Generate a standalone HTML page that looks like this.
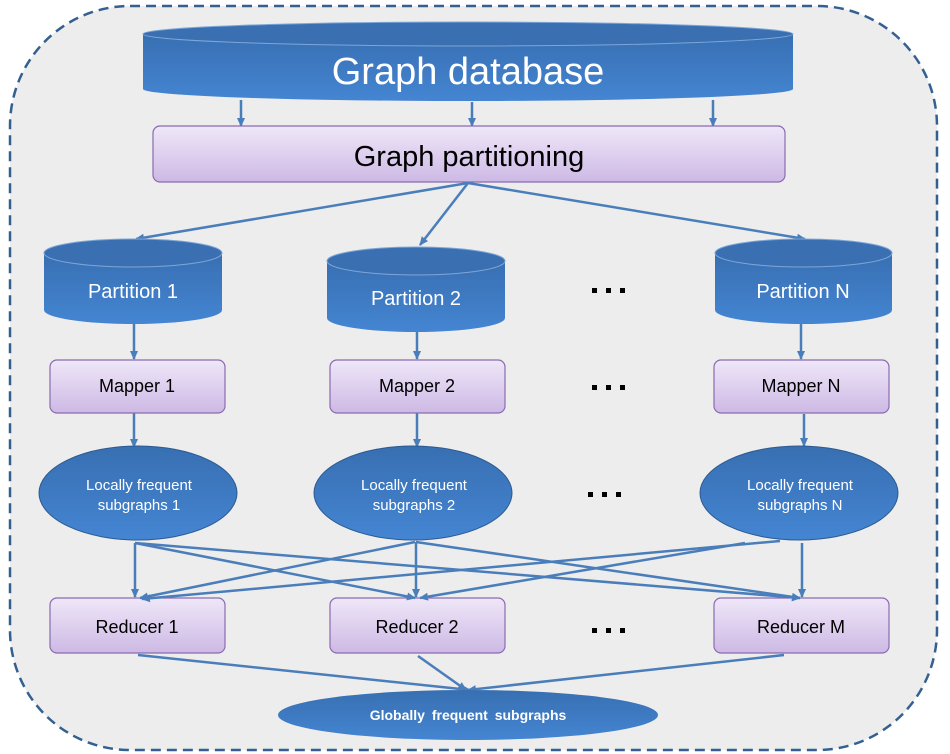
<!DOCTYPE html>
<html><head><meta charset="utf-8"><style>
html,body{margin:0;padding:0;background:#fff;}
svg{display:block;font-family:"Liberation Sans",sans-serif;}
</style></head><body>
<svg width="950" height="754" viewBox="0 0 950 754" xmlns="http://www.w3.org/2000/svg">
<defs>
<linearGradient id="blue" x1="0" y1="0" x2="0" y2="1">
<stop offset="0" stop-color="#386fb2"/><stop offset="1" stop-color="#4485d2"/></linearGradient>
<linearGradient id="lav" x1="0" y1="0" x2="0" y2="1">
<stop offset="0" stop-color="#efe7f8"/><stop offset="1" stop-color="#cdb9e5"/></linearGradient>
<marker id="ar" markerWidth="10" markerHeight="10" refX="8" refY="5" orient="auto" markerUnits="userSpaceOnUse">
<path d="M0,1 L9,5 L0,9 Z" fill="#4a7ebb"/></marker>
</defs>
<rect x="10" y="6" width="927" height="744" rx="120" fill="#ededed" stroke="#335f91" stroke-width="2.5" stroke-dasharray="10,6"/>

<path d="M143,34 L143,89 A325,12 0 0 0 793,89 L793,34 Z" fill="url(#blue)"/>
<ellipse cx="468" cy="34" rx="325" ry="12" fill="#3a70b2" stroke="#7da6d8" stroke-width="1"/>
<text x="468" y="84" font-size="38" fill="#fff" text-anchor="middle">Graph database</text>

<g stroke="#4a7ebb" stroke-width="2.5" fill="none" marker-end="url(#ar)">
<line x1="241" y1="100" x2="241" y2="126"/>
<line x1="472" y1="102" x2="472" y2="126"/>
<line x1="713" y1="100" x2="713" y2="126"/>
</g>

<rect x="153" y="126" width="632" height="56" rx="7" fill="url(#lav)" stroke="#8a6bb0" stroke-width="1.2"/>
<text x="469" y="166" font-size="29" fill="#000" text-anchor="middle">Graph partitioning</text>

<g stroke="#4a7ebb" stroke-width="2.5" fill="none" marker-end="url(#ar)">
<line x1="468" y1="183" x2="136" y2="239"/>
<line x1="468" y1="183" x2="420" y2="245"/>
<line x1="468" y1="183" x2="805" y2="239"/>
</g>

<g>
<path d="M44,253 L44,310 A89,14 0 0 0 222,310 L222,253 Z" fill="url(#blue)"/>
<ellipse cx="133" cy="253" rx="89" ry="14" fill="#3a70b2" stroke="#7da6d8"/>
<text x="133" y="298" font-size="20" fill="#fff" text-anchor="middle">Partition 1</text>
<path d="M327,261 L327,318 A89,14 0 0 0 505,318 L505,261 Z" fill="url(#blue)"/>
<ellipse cx="416" cy="261" rx="89" ry="14" fill="#3a70b2" stroke="#7da6d8"/>
<text x="416" y="305" font-size="20" fill="#fff" text-anchor="middle">Partition 2</text>
<path d="M715,253 L715,310 A88.5,14 0 0 0 892,310 L892,253 Z" fill="url(#blue)"/>
<ellipse cx="803.5" cy="253" rx="88.5" ry="14" fill="#3a70b2" stroke="#7da6d8"/>
<text x="803" y="298" font-size="20" fill="#fff" text-anchor="middle">Partition N</text>
</g>

<g fill="#000">
<rect x="592" y="288" width="5" height="5"/><rect x="606" y="288" width="5" height="5"/><rect x="620" y="288" width="5" height="5"/>
<rect x="592" y="385" width="5" height="5"/><rect x="606" y="385" width="5" height="5"/><rect x="620" y="385" width="5" height="5"/>
<rect x="588" y="492" width="5" height="5"/><rect x="602" y="492" width="5" height="5"/><rect x="616" y="492" width="5" height="5"/>
<rect x="592" y="628" width="5" height="5"/><rect x="606" y="628" width="5" height="5"/><rect x="620" y="628" width="5" height="5"/>
</g>

<g stroke="#4a7ebb" stroke-width="2.5" fill="none" marker-end="url(#ar)">
<line x1="134" y1="324" x2="134" y2="359"/>
<line x1="417" y1="332" x2="417" y2="359"/>
<line x1="801" y1="324" x2="801" y2="359"/>
<line x1="134" y1="413" x2="134" y2="447"/>
<line x1="417" y1="413" x2="417" y2="447"/>
<line x1="804" y1="414" x2="804" y2="446"/>
</g>

<g fill="url(#lav)" stroke="#8a6bb0" stroke-width="1.2">
<rect x="50" y="360" width="175" height="53" rx="7"/>
<rect x="330" y="360" width="175" height="53" rx="7"/>
<rect x="714" y="360" width="175" height="53" rx="7"/>
<rect x="50" y="598" width="175" height="55" rx="7"/>
<rect x="330" y="598" width="175" height="55" rx="7"/>
<rect x="714" y="598" width="175" height="55" rx="7"/>
</g>
<g font-size="18" fill="#000" text-anchor="middle">
<text x="137" y="392">Mapper 1</text>
<text x="417" y="392">Mapper 2</text>
<text x="801" y="392">Mapper N</text>
<text x="137" y="633">Reducer 1</text>
<text x="417" y="633">Reducer 2</text>
<text x="801" y="633">Reducer M</text>
</g>

<g fill="url(#blue)" stroke="#2c5a91" stroke-width="1">
<ellipse cx="138" cy="493" rx="99" ry="47"/>
<ellipse cx="413" cy="493" rx="99" ry="47"/>
<ellipse cx="799" cy="493" rx="99" ry="47"/>
</g>
<g font-size="15" fill="#fff" text-anchor="middle">
<text x="139" y="490">Locally  frequent</text><text x="139" y="510">subgraphs 1</text>
<text x="414" y="490">Locally  frequent</text><text x="414" y="510">subgraphs 2</text>
<text x="800" y="490">Locally  frequent</text><text x="800" y="510">subgraphs N</text>
</g>

<g stroke="#4a7ebb" stroke-width="2.5" fill="none" marker-end="url(#ar)">
<line x1="135" y1="543" x2="135" y2="597"/>
<line x1="135" y1="543" x2="415" y2="598"/>
<line x1="135" y1="543" x2="800" y2="598"/>
<line x1="415" y1="542" x2="140" y2="598"/>
<line x1="416" y1="542" x2="416" y2="597"/>
<line x1="416" y1="542" x2="800" y2="598"/>
<line x1="780" y1="541" x2="142" y2="599"/>
<line x1="745" y1="543" x2="420" y2="598"/>
<line x1="802" y1="543" x2="802" y2="597"/>
<line x1="138" y1="655" x2="470" y2="690"/>
<line x1="418" y1="656" x2="466" y2="690"/>
<line x1="784" y1="655" x2="468" y2="690"/>
</g>

<ellipse cx="468" cy="715" rx="190" ry="25" fill="url(#blue)"/>
<text x="468" y="720" font-size="14" font-weight="bold" fill="#fff" text-anchor="middle" word-spacing="3">Globally  frequent  subgraphs</text>
</svg>
</body></html>
